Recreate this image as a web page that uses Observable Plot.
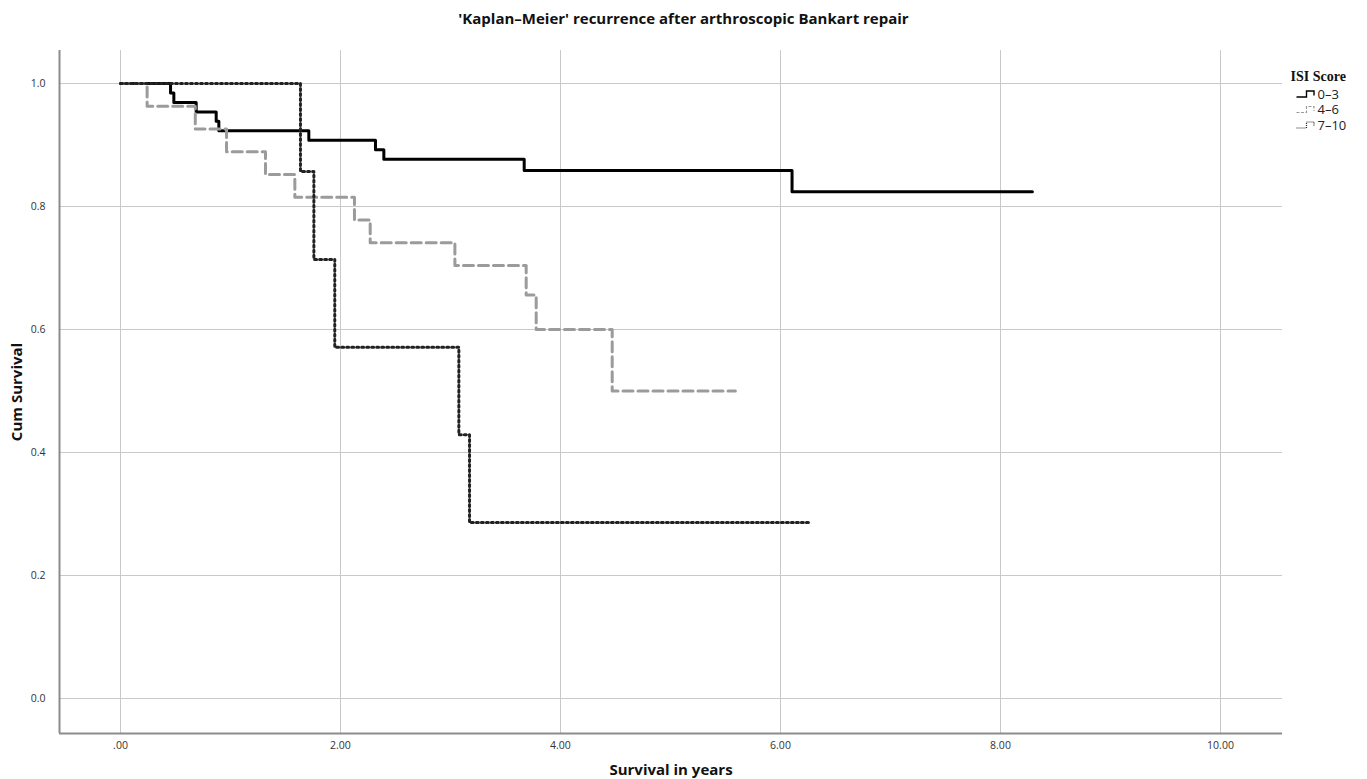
<!DOCTYPE html>
<html>
<head>
<meta charset="utf-8">
<script src="https://cdn.jsdelivr.net/npm/d3@7"></script>
<script src="https://cdn.jsdelivr.net/npm/@observablehq/plot@0.6"></script>
<style>
  body { margin: 0; background: #fff; font-family: "Open Sans", sans-serif; }
  #wrap { position: relative; width: 1367px; height: 779px; overflow: hidden; }
  #title { height: 36px; line-height: 36px; text-align: center; font-weight: bold; font-size: 15px; color: #111; }
  #legend { position: absolute; left: 1285px; top: 62px; }
</style>
</head>
<body>
<div id="wrap">
  <div id="title"></div>
  <div id="chart"></div>
  <div id="legend"></div>
</div>
<script>
// ---- data ----
const groups = ["0–3", "4–6", "7–10"];

const timesLow = [0, 0.455, 0.485, 0.688, 0.870, 0.894, 1.712, 2.318, 2.394, 3.67, 6.105, 8.29];
const survLow  = [1, 0.9846, 0.9692, 0.9538, 0.9385, 0.9231, 0.9077, 0.8923, 0.8769, 0.8585, 0.824, 0.824];

const timesMid = [0, 0.242, 0.68, 0.964, 1.318, 1.585, 2.127, 2.27, 3.04, 3.688, 3.779, 4.47, 5.59];
const survMid  = [1, 0.963, 0.926, 0.889, 0.852, 0.815, 0.778, 0.741, 0.704, 0.656, 0.600, 0.500, 0.500];

const timesHigh = [0, 1.636, 1.758, 1.948, 3.076, 3.173, 6.26];
const survHigh  = [1, 0.857, 0.714, 0.571, 0.429, 0.286, 0.286];

const xTicks = [0, 2, 4, 6, 8, 10];
const xTickLabels = [".00", "2.00", "4.00", "6.00", "8.00", "10.00"];
const yTicks = [0, 0.2, 0.4, 0.6, 0.8, 1.0];
const yTickLabels = ["0.0", "0.2", "0.4", "0.6", "0.8", "1.0"];

const titleText = "'Kaplan–Meier' recurrence after arthroscopic Bankart repair";
const xLabel = "Survival in years";
const yLabel = "Cum Survival";
const legendTitle = "ISI Score";

// ---- build tables ----
const toRows = (g, ts, ss) => ts.map((t, i) => ({group: g, t, s: ss[i]}));
const rowsLow = toRows(groups[0], timesLow, survLow);
const rowsMid = toRows(groups[1], timesMid, survMid);
const rowsHigh = toRows(groups[2], timesHigh, survHigh);

const xDomain = [-0.5545, 10.5636];
const yDomain = [-0.0569, 1.0537];

const styles = [
  {stroke: "#000000", strokeWidth: 3, dash: null, lw: 1.4, ldash: null},
  {stroke: "#9b9b9b", strokeWidth: 3, dash: "10,5", lw: 1.2, ldash: "3,1.5"},
  {stroke: "#222222", strokeWidth: 3, dash: "2,3", lw: 1.2, ldash: "1,1"}
];

document.getElementById("title").textContent = titleText;

const chart = Plot.plot({
  width: 1367,
  height: 743,
  marginLeft: 59,
  marginRight: 85,
  marginTop: 14,
  marginBottom: 46,
  style: {fontFamily: "'Open Sans', sans-serif", background: "#fff"},
  x: {domain: xDomain},
  y: {domain: yDomain},
  marks: [
    Plot.gridX(xTicks, {stroke: "#c9c9c9", strokeOpacity: 1, strokeWidth: 1}),
    Plot.gridY(yTicks, {stroke: "#c9c9c9", strokeOpacity: 1, strokeWidth: 1}),
    Plot.ruleX([xDomain[0]], {stroke: "#8c8c8c", strokeWidth: 2}),
    Plot.ruleY([yDomain[0]], {stroke: "#8c8c8c", strokeWidth: 2}),
    Plot.line(rowsLow, {x: "t", y: "s", curve: "step-after", stroke: styles[0].stroke, strokeWidth: styles[0].strokeWidth}),
    Plot.line(rowsMid, {x: "t", y: "s", curve: "step-after", stroke: styles[1].stroke, strokeWidth: styles[1].strokeWidth, strokeDasharray: styles[1].dash}),
    Plot.line(rowsHigh, {x: "t", y: "s", curve: "step-after", stroke: styles[2].stroke, strokeWidth: styles[2].strokeWidth, strokeDasharray: styles[2].dash}),
    Plot.axisX(xTicks, {tickSize: 0, tickPadding: 8, fontSize: 10.5, fill: "#333", tickFormat: (d, i) => xTickLabels[i], label: null}),
    Plot.axisY(yTicks, {tickSize: 0, tickPadding: 14, fontSize: 10.5, fill: "#333", tickFormat: (d, i) => yTickLabels[i], label: null}),
    Plot.text([xLabel], {frameAnchor: "bottom", lineAnchor: "middle", textAnchor: "middle", dy: 37, fontSize: 15, fontWeight: "bold", fill: "#111"}),
    Plot.text([yLabel], {frameAnchor: "left", lineAnchor: "middle", textAnchor: "middle", dx: -42, rotate: -90, fontSize: 15, fontWeight: "bold", fill: "#111"})
  ]
});
document.getElementById("chart").appendChild(chart);

// ---- legend ----
const ns = "http://www.w3.org/2000/svg";
const lg = document.createElementNS(ns, "svg");
lg.setAttribute("width", 82);
lg.setAttribute("height", 75);
const t = document.createElementNS(ns, "text");
t.setAttribute("x", 5.5);
t.setAttribute("y", 18.5);
t.setAttribute("font-family", "'Liberation Serif', 'Times New Roman', serif");
t.setAttribute("font-weight", "bold");
t.setAttribute("font-size", 14);
t.setAttribute("fill", "#111");
t.textContent = legendTitle;
lg.appendChild(t);
groups.forEach((g, i) => {
  const cy = 32 + i * 15.5;
  const p = document.createElementNS(ns, "path");
  p.setAttribute("d", `M11.5,${cy + 3} H21.5 V${cy - 3} H29 V${cy + 1.5}`);
  p.setAttribute("fill", "none");
  p.setAttribute("stroke", styles[i].stroke);
  p.setAttribute("stroke-width", styles[i].lw);
  if (styles[i].ldash) p.setAttribute("stroke-dasharray", styles[i].ldash);
  lg.appendChild(p);
  const tx = document.createElementNS(ns, "text");
  tx.setAttribute("x", 32.5);
  tx.setAttribute("y", cy + 4.5);
  tx.setAttribute("font-family", "'Open Sans', sans-serif");
  tx.setAttribute("font-size", 13);
  tx.setAttribute("fill", "#222");
  tx.textContent = g;
  lg.appendChild(tx);
});
document.getElementById("legend").appendChild(lg);
</script>
</body>
</html>
